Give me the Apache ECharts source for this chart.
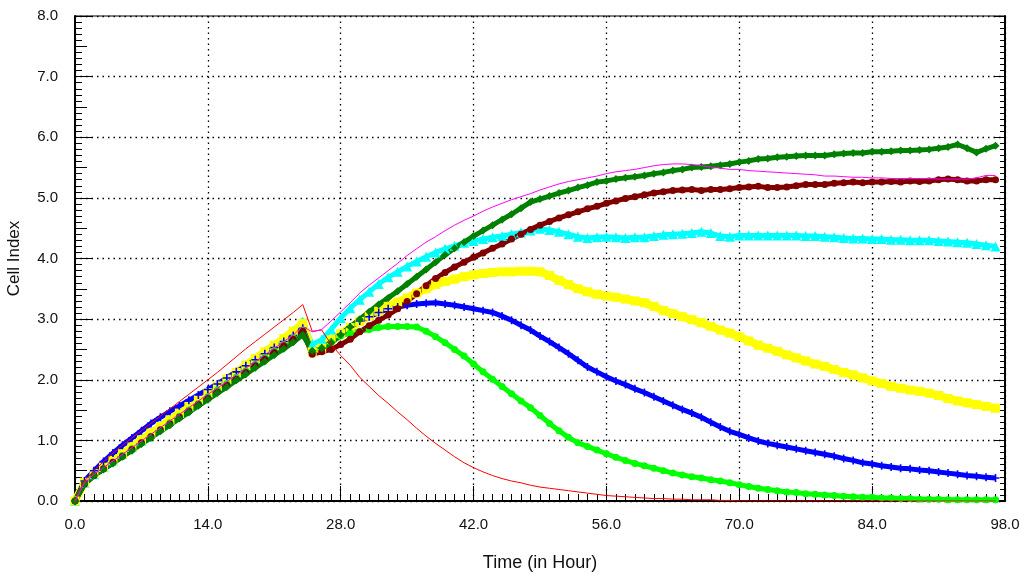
<!DOCTYPE html>
<html>
<head>
<meta charset="utf-8">
<script src="https://cdn.jsdelivr.net/npm/echarts@6/dist/echarts.min.js"></script>
<style>html,body{margin:0;padding:0;background:#fff}#c{width:1024px;height:576px}</style>
</head>
<body>
<div id="c"></div>
<script>
var hours = [0,1,2,3,4,5,6,7,8,9,10,11,12,13,14,15,16,17,18,19,20,21,22,23,24,25,26,27,28,29,30,31,32,33,34,35,36,37,38,39,40,41,42,43,44,45,46,47,48,49,50,51,52,53,54,55,56,57,58,59,60,61,62,63,64,65,66,67,68,69,70,71,72,73,74,75,76,77,78,79,80,81,82,83,84,85,86,87,88,89,90,91,92,93,94,95,96,97];
var xTicks = [0,14,28,42,56,70,84,98];
var yTicks = [0,1,2,3,4,5,6,7,8];

var redVals = [0,0.33,0.50,0.65,0.79,0.92,1.04,1.16,1.28,1.40,
1.52,1.64,1.76,1.88,2.00,2.12,2.25,2.38,2.51,2.63,
2.75,2.87,2.99,3.11,3.24,2.80,2.82,2.58,2.40,2.24,
2.04,1.89,1.74,1.61,1.47,1.34,1.20,1.07,0.95,0.84,
0.73,0.63,0.55,0.48,0.42,0.37,0.33,0.30,0.26,0.23,
0.21,0.19,0.17,0.15,0.13,0.11,0.09,0.08,0.07,0.06,
0.05,0.04,0.04,0.03,0.03,0.02,0.02,0.02,0.01,0.01,
0,0,0,0,0,0,0,0,0,0,
0,0,0,0,0,0,0,0,0,0,
0,0,0,0,0,0,0,0];

var magentaVals = [0,0.30,0.44,0.55,0.66,0.77,0.88,0.99,1.10,1.21,
1.32,1.43,1.54,1.65,1.76,1.86,1.97,2.08,2.19,2.30,
2.41,2.52,2.63,2.74,2.88,2.79,2.83,2.97,3.12,3.27,
3.43,3.56,3.68,3.80,3.92,4.05,4.16,4.27,4.36,4.46,
4.55,4.63,4.70,4.78,4.85,4.91,4.97,5.02,5.07,5.13,
5.18,5.23,5.27,5.30,5.33,5.36,5.40,5.43,5.45,5.47,
5.50,5.53,5.55,5.56,5.56,5.55,5.53,5.51,5.49,5.47,
5.47,5.45,5.44,5.43,5.42,5.41,5.40,5.39,5.38,5.36,
5.36,5.35,5.34,5.34,5.33,5.33,5.32,5.32,5.32,5.32,
5.32,5.31,5.31,5.31,5.31,5.33,5.37,5.37];

var cyanVals = [0,0.30,0.44,0.56,0.67,0.78,0.89,1.00,1.12,1.23,
1.34,1.45,1.56,1.68,1.79,1.90,2.01,2.12,2.24,2.35,
2.46,2.57,2.68,2.80,2.96,2.58,2.66,2.83,3.02,3.18,
3.32,3.45,3.58,3.69,3.78,3.87,3.95,4.03,4.10,4.16,
4.21,4.26,4.29,4.32,4.35,4.37,4.40,4.43,4.46,4.49,
4.47,4.44,4.40,4.36,4.34,4.35,4.36,4.35,4.34,4.35,
4.35,4.37,4.39,4.40,4.41,4.42,4.44,4.42,4.37,4.36,
4.38,4.38,4.38,4.38,4.38,4.38,4.38,4.37,4.37,4.36,
4.35,4.34,4.33,4.33,4.32,4.32,4.31,4.31,4.30,4.30,
4.30,4.29,4.28,4.27,4.26,4.24,4.22,4.20];

var yellowVals = [0,0.31,0.45,0.56,0.67,0.78,0.89,1.01,1.12,1.23,
1.34,1.45,1.56,1.68,1.79,1.90,2.01,2.12,2.24,2.35,
2.46,2.57,2.68,2.80,2.93,2.46,2.52,2.66,2.76,2.86,
2.96,3.05,3.13,3.21,3.28,3.35,3.43,3.50,3.57,3.62,
3.66,3.70,3.73,3.75,3.77,3.78,3.78,3.79,3.79,3.78,
3.72,3.64,3.57,3.50,3.45,3.41,3.38,3.36,3.33,3.30,
3.27,3.21,3.14,3.09,3.04,2.99,2.94,2.88,2.82,2.77,
2.71,2.64,2.57,2.52,2.47,2.41,2.36,2.31,2.26,2.22,
2.17,2.12,2.08,2.03,1.98,1.94,1.89,1.86,1.83,1.81,
1.78,1.74,1.69,1.65,1.62,1.59,1.56,1.53];

var blueVals = [0,0.33,0.50,0.65,0.79,0.92,1.04,1.16,1.28,1.38,
1.48,1.57,1.66,1.75,1.84,1.93,2.03,2.13,2.23,2.33,
2.43,2.53,2.63,2.73,2.85,2.45,2.52,2.62,2.75,2.87,
2.97,3.04,3.11,3.17,3.20,3.23,3.25,3.26,3.27,3.25,
3.23,3.20,3.17,3.14,3.11,3.05,2.98,2.90,2.82,2.72,
2.63,2.53,2.43,2.32,2.21,2.13,2.05,1.98,1.92,1.85,
1.79,1.72,1.65,1.58,1.51,1.45,1.38,1.30,1.22,1.15,
1.10,1.04,0.99,0.95,0.92,0.89,0.86,0.83,0.80,0.77,
0.74,0.70,0.67,0.63,0.61,0.58,0.56,0.54,0.53,0.51,
0.50,0.48,0.46,0.44,0.42,0.41,0.39,0.38];

var limeVals = [0,0.28,0.42,0.53,0.64,0.75,0.86,0.96,1.07,1.18,
1.29,1.40,1.50,1.61,1.72,1.83,1.94,2.04,2.15,2.26,
2.37,2.48,2.58,2.69,2.82,2.45,2.52,2.62,2.72,2.77,
2.80,2.83,2.86,2.88,2.88,2.88,2.87,2.80,2.71,2.61,
2.50,2.39,2.26,2.13,2.01,1.89,1.77,1.65,1.54,1.41,
1.28,1.16,1.05,0.96,0.90,0.84,0.78,0.72,0.67,0.62,
0.58,0.54,0.50,0.46,0.43,0.40,0.38,0.35,0.33,0.30,
0.27,0.24,0.21,0.19,0.17,0.15,0.14,0.12,0.11,0.10,
0.09,0.08,0.07,0.06,0.06,0.05,0.05,0.04,0.04,0.03,
0.03,0.03,0.02,0.02,0.02,0.02,0.02,0.02];

var maroonVals = [0,0.28,0.42,0.53,0.64,0.74,0.85,0.96,1.06,1.17,
1.27,1.38,1.48,1.59,1.69,1.80,1.91,2.01,2.12,2.23,
2.34,2.45,2.56,2.67,2.80,2.42,2.46,2.50,2.58,2.67,
2.79,2.89,2.98,3.07,3.17,3.29,3.42,3.55,3.67,3.77,
3.86,3.94,4.02,4.09,4.17,4.24,4.32,4.40,4.48,4.55,
4.61,4.67,4.72,4.77,4.82,4.86,4.91,4.95,4.99,5.02,
5.05,5.08,5.10,5.12,5.13,5.14,5.12,5.14,5.14,5.15,
5.17,5.18,5.19,5.17,5.17,5.18,5.20,5.22,5.22,5.22,
5.24,5.25,5.26,5.25,5.26,5.26,5.27,5.26,5.28,5.27,
5.28,5.30,5.31,5.30,5.28,5.28,5.30,5.30];

var darkGreenVals = [0,0.28,0.42,0.52,0.62,0.73,0.83,0.94,1.04,1.15,
1.25,1.36,1.46,1.57,1.67,1.78,1.88,1.99,2.09,2.20,
2.30,2.41,2.51,2.62,2.74,2.48,2.52,2.61,2.74,2.87,
3.00,3.12,3.24,3.35,3.46,3.58,3.70,3.82,3.94,4.06,
4.17,4.27,4.37,4.46,4.55,4.64,4.73,4.83,4.93,4.98,
5.03,5.08,5.12,5.17,5.21,5.26,5.28,5.31,5.33,5.35,
5.37,5.40,5.42,5.45,5.47,5.50,5.51,5.52,5.54,5.56,
5.59,5.61,5.64,5.65,5.67,5.68,5.69,5.70,5.70,5.70,
5.72,5.73,5.74,5.74,5.76,5.76,5.77,5.78,5.78,5.79,
5.80,5.82,5.84,5.88,5.82,5.75,5.81,5.86];

function pairs(vals){ return hours.map(function(h,i){ return [h, vals[i]]; }); }

var FONT = 'Liberation Sans';
var plusPath = 'path://M4,0H6V4H10V6H6V10H4V6H0V4H4Z';

function markerSeries(name, color, vals, symbol, size, lw){
  return {
    name: name, type: 'line', data: pairs(vals),
    symbol: symbol, symbolSize: size, showSymbol: true,
    itemStyle: {color: color, borderWidth: 0},
    lineStyle: {color: color, width: lw},
    emphasis: {disabled: true}, z: 3
  };
}
function thinSeries(name, color, vals){
  return {
    name: name, type: 'line', data: pairs(vals), symbol: 'none',
    lineStyle: {color: color, width: 1}, emphasis: {disabled: true}, z: 4
  };
}

var chart = echarts.init(document.getElementById('c'), null, {renderer: 'canvas'});
chart.setOption({
  animation: false,
  backgroundColor: '#ffffff',
  grid: {left: 75, right: 19, top: 16, bottom: 75, containLabel: false, outerBoundsMode: 'none',
         show: true, borderColor: '#000', borderWidth: 1, backgroundColor: 'transparent'},
  xAxis: [{
    type: 'value', min: xTicks[0], max: xTicks[xTicks.length-1], interval: 14,
    name: 'Time (in Hour)', nameLocation: 'middle', nameGap: 53,
    nameTextStyle: {fontFamily: FONT, fontSize: 18, color: '#111'},
    axisLine: {show: true, onZero: false, lineStyle: {color: '#000', width: 2}},
    axisTick: {show: true, inside: true, length: 15, lineStyle: {color: '#000', width: 1}},
    minorTick: {show: true, splitNumber: 14, length: 7, lineStyle: {color: '#000', width: 1}},
    axisLabel: {fontFamily: FONT, fontSize: 15, color: '#111', margin: 16, formatter: function(v){ return v.toFixed(1); }},
    splitLine: {show: true, lineStyle: {color: '#000', width: 1.3, type: [1.5, 4]}},
    minorSplitLine: {show: false}
  }],
  yAxis: [{
    type: 'value', min: yTicks[0], max: yTicks[yTicks.length-1], interval: 1,
    name: 'Cell Index', nameLocation: 'middle', nameGap: 52, nameRotate: 90,
    nameTextStyle: {fontFamily: FONT, fontSize: 17, color: '#111'},
    axisLine: {show: true, onZero: false, lineStyle: {color: '#000', width: 2}},
    axisTick: {show: true, inside: true, length: 17, lineStyle: {color: '#000', width: 1}},
    minorTick: {show: true, splitNumber: 10, length: 7, lineStyle: {color: '#000', width: 1}},
    axisLabel: {fontFamily: FONT, fontSize: 15, color: '#111', margin: 17, formatter: function(v){ return v.toFixed(1); }},
    splitLine: {show: true, lineStyle: {color: '#000', width: 1.3, type: [1.5, 4]}}
  }, {
    type: 'value', min: 0, max: 8, interval: 0.5, position: 'left',
    axisLine: {show: false}, axisLabel: {show: false}, splitLine: {show: false},
    axisTick: {show: true, inside: true, length: 12, lineStyle: {color: '#000', width: 1}}
  }, {
    type: 'value', min: 0, max: 8, interval: 1, position: 'right',
    axisLine: {show: true, onZero: false, lineStyle: {color: '#000', width: 2}},
    axisLabel: {show: false}, splitLine: {show: false},
    axisTick: {show: true, inside: true, length: 10, lineStyle: {color: '#000', width: 1}},
    minorTick: {show: true, splitNumber: 10, length: 5, lineStyle: {color: '#000', width: 1}}
  }],
  series: [
    markerSeries('Cyan', '#00ffff', cyanVals, 'triangle', 10, 5),
    markerSeries('Yellow', '#ffff00', yellowVals, 'rect', 9, 8),
    markerSeries('Blue', '#0000ff', blueVals, plusPath, 8, 5),
    markerSeries('Lime', '#00ff00', limeVals, 'circle', 7, 5),
    markerSeries('Maroon', '#800000', maroonVals, 'circle', 7, 5),
    markerSeries('DarkGreen', '#008000', darkGreenVals, 'diamond', 8, 5),
    thinSeries('Red', '#ff0000', redVals),
    thinSeries('Magenta', '#ff00ff', magentaVals)
  ]
});
</script>
</body>
</html>
